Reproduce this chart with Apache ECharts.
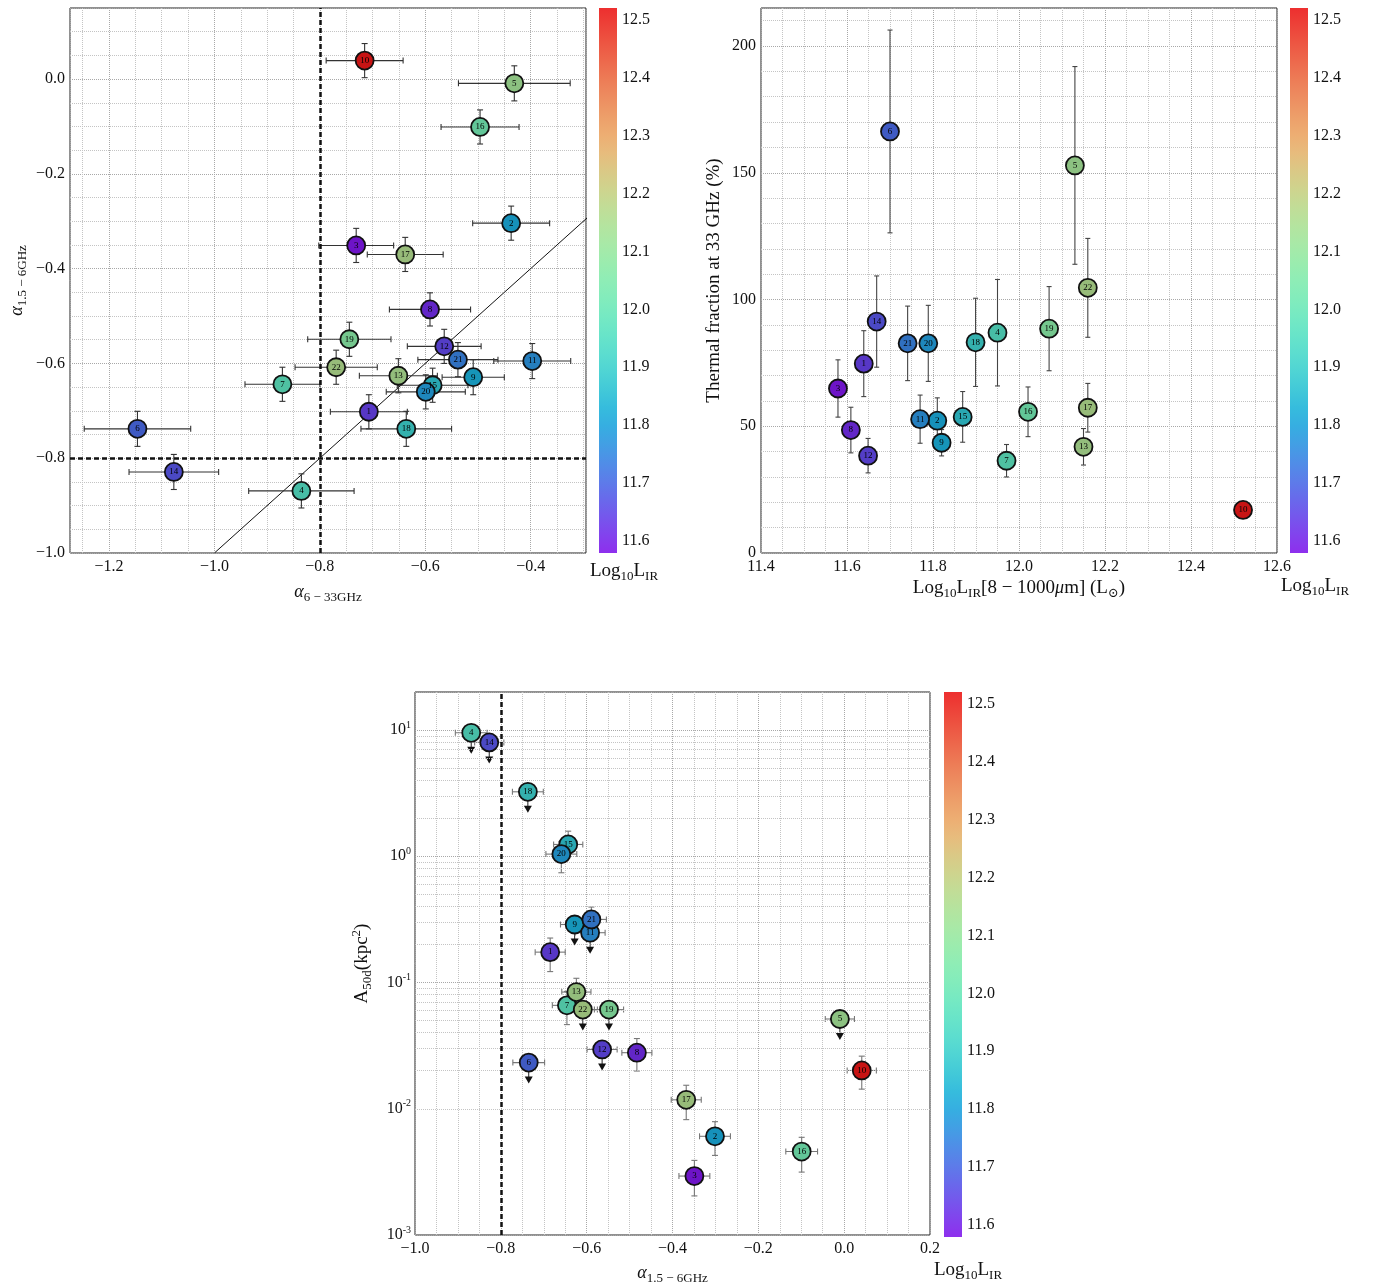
<!DOCTYPE html>
<html><head><meta charset="utf-8">
<script src="https://cdn.jsdelivr.net/npm/echarts@6/dist/echarts.min.js"></script>
<style>html,body{margin:0;padding:0;background:#fff;} #c{width:1377px;height:1286px;}</style>
</head><body><div id="c"></div>
<script>
// ---------------- DATA ----------------
const ids = [1,2,3,4,5,6,7,8,9,10,11,12,13,14,15,16,17,18,19,20,21,22];
// log10 L_IR (colour + panel 2 x)
const lir = [11.639,11.810,11.579,11.950,12.130,11.700,11.971,11.609,11.820,12.521,11.770,11.649,12.150,11.669,11.869,12.021,12.160,11.899,12.070,11.789,11.741,12.160];
// Panel 1: alpha 6-33 GHz (x) vs alpha 1.5-6 GHz (y)
const alpha633 = [-0.707,-0.437,-0.731,-0.835,-0.431,-1.146,-0.871,-0.591,-0.509,-0.715,-0.397,-0.564,-0.651,-1.077,-0.586,-0.496,-0.638,-0.636,-0.744,-0.599,-0.538,-0.769];
const alpha633Err = [0.073,0.073,0.071,0.100,0.106,0.101,0.071,0.077,0.059,0.073,0.073,0.070,0.074,0.085,0.067,0.074,0.072,0.086,0.079,0.075,0.076,0.078];
const alpha156 = [-0.702,-0.304,-0.351,-0.869,-0.009,-0.738,-0.644,-0.486,-0.629,0.039,-0.595,-0.564,-0.626,-0.829,-0.646,-0.101,-0.370,-0.738,-0.549,-0.660,-0.592,-0.608];
const alpha156Err = [0.036,0.036,0.036,0.036,0.037,0.037,0.036,0.035,0.037,0.036,0.037,0.036,0.036,0.037,0.036,0.036,0.036,0.037,0.036,0.036,0.036,0.036];
// Panel 2: thermal fraction at 33 GHz (%)
const thermal = [74.7,52.2,64.9,86.9,152.9,166.3,36.4,48.5,43.5,17.0,52.8,38.4,41.9,91.3,53.7,55.7,57.3,83.1,88.5,82.7,82.7,104.6];
const thermalErr = [13,9,11.3,21,39,40,6.4,9,5.2,0,9.5,6.8,7.2,18,10,9.8,9.6,17.4,16.6,15,14.7,19.5];
// Panel 3: alpha 1.5-6 GHz (x) vs A50 (kpc^2) (log y)
const alphaP3 = [-0.685,-0.301,-0.349,-0.869,-0.010,-0.735,-0.646,-0.483,-0.628,0.041,-0.592,-0.564,-0.624,-0.827,-0.643,-0.099,-0.368,-0.737,-0.548,-0.659,-0.589,-0.609];
const alphaP3Err = [0.035,0.036,0.036,0.037,0.034,0.037,0.034,0.035,0.033,0.034,0.035,0.035,0.034,0.034,0.034,0.037,0.035,0.036,0.034,0.036,0.035,0.034];
const area = [0.174,0.00605,0.00293,9.5,0.0514,0.0232,0.0659,0.0278,0.288,0.0201,0.248,0.0295,0.084,7.98,1.24,0.00458,0.01177,3.24,0.061,1.04,0.316,0.061];
const areaLo = [0.122,0.00427,0.00204,null,null,null,0.0464,0.0199,null,0.0143,null,null,0.065,null,1.0,0.00315,0.0082,null,null,0.74,0.25,null];
const areaHi = [0.225,0.0079,0.0039,null,null,null,0.085,0.036,null,0.0261,null,null,0.108,null,1.58,0.00594,0.01535,null,null,1.3,0.396,null];
const upperLimit = [0,0,0,1,1,1,0,0,1,0,1,1,0,1,0,0,0,1,1,0,0,1];
// reference lines
const refAlpha = -0.8;
const oneToOne = [[-1.0,-1.0],[0.0,0.0]];
// axis ranges
const p1X = [-1.274,-0.295], p1Y = [-1.0,0.15];
const p2X = [11.4,12.6], p2Y = [0,215];
const p3X = [-1.0,0.2], p3Y = [0.001,20];

// ---------------- STYLE HELPERS ----------------
const FONT = "'Liberation Serif','Times New Roman','DejaVu Serif',serif";
function rainbowRGB(t){
  t = Math.max(0, Math.min(1, t));
  const r = Math.min(1, Math.abs(2*t - 0.5));
  const g = Math.max(0, Math.min(1, Math.sin(Math.PI*t)));
  const b = Math.max(0, Math.min(1, Math.cos(Math.PI*t/2)));
  return [r,g,b];
}
function rgbStr(c,k){ return 'rgb(' + c.map(v=>Math.round(255*Math.min(1,v*k))).join(',') + ')'; }
const cbMin = Math.min(...lir), cbMax = Math.max(...lir);
const colorOf = v => { const c = rainbowRGB((v-cbMin)/(cbMax-cbMin)).map(x=>0.1+0.9*x); return rgbStr(c, 0.78); };
const stops = [];
for (let i=0;i<=30;i++){ const c = rainbowRGB(i/30).map(v=>0.2+0.8*v); stops.push({offset:i/30, color: rgbStr(c,0.93)}); }

const fmt1 = v => { const a = Math.abs(v); if (a < 1e-9) return '0.0'; return (v<0?'\u2212':'') + a.toFixed(1); };

const RICH = {
  m: {fontFamily: FONT, fontSize: 19, lineHeight: 24, color:'#111'},
  a: {fontFamily: FONT, fontSize: 18, lineHeight: 24, color:'#111', fontStyle:'italic'},
  s: {fontFamily: FONT, fontSize: 13, lineHeight: 14, color:'#111', verticalAlign:'bottom'},
  p: {fontFamily: FONT, fontSize: 13, lineHeight: 14, color:'#111', verticalAlign:'top'},
  b: {fontFamily: FONT, fontSize: 16, lineHeight: 20, color:'#111'},
  e: {fontFamily: FONT, fontSize: 10, lineHeight: 10, color:'#111', verticalAlign:'top'}
};
const gridLine = {show:true, lineStyle:{type:'dotted', color:'#a8a8a8', width:1}};
const minorLine = {show:true, lineStyle:{type:'dotted', color:'#c4c4c4', width:1}};
const labelBase = {fontFamily: FONT, fontSize: 16, color:'#111'};

function plotAxis(opts){
  return Object.assign({
    type:'value', axisLine:{show:false}, axisTick:{show:false},
    splitLine: gridLine, minorSplitLine: minorLine, minorTick:{show:false, splitNumber:4},
    nameLocation:'middle', nameTextStyle:{fontFamily:FONT, color:'#111', rich:RICH}
  }, opts);
}
function cbXAxis(grid, gap, pad){
  return {type:'value', gridIndex:grid, min:0, max:1, axisLine:{show:false}, axisTick:{show:false},
    axisLabel:{show:false}, splitLine:{show:false},
    name:'{m|Log}{s|10}{m|L}{s|IR}', nameLocation:'middle', nameGap:gap,
    nameTextStyle:{fontFamily:FONT, color:'#111', rich:RICH, padding:[0,0,0,pad]}};
}
function cbYAxis(grid){
  return {type:'value', gridIndex:grid, position:'right', min:cbMin, max:cbMax, splitNumber:9,
    axisLine:{show:false}, axisTick:{show:false}, splitLine:{show:false},
    axisLabel:Object.assign({formatter: v=>v.toFixed(1), showMinLabel:false, showMaxLabel:false, margin:5}, labelBase)};
}

function scatterSeries(xi, xs, ys){
  return {type:'scatter', xAxisIndex:xi, yAxisIndex:xi, z:5, symbolSize:18, animation:false,
    data: ids.map((id,i)=>[xs[i], ys[i], id, lir[i]]),
    itemStyle:{color: p => colorOf(p.data[3]), borderColor:'#111', borderWidth:1.8, opacity:1},
    label:{show:true, position:'inside', formatter: p => String(p.data[2]), fontSize:9, fontFamily:FONT, color:'#000'},
    emphasis:{disabled:true}};
}
// rows: [x, y, xlo, xhi, ylo, yhi, limit]
function errSeries(xi, rows, color, cap){
  return {type:'custom', xAxisIndex:xi, yAxisIndex:xi, z:3, silent:true, animation:false,
    data: rows.map(r=>[r[0], r[1]]),
    renderItem: (params, api) => {
      const r = rows[params.dataIndex];
      const ch = [];
      const L = (x1,y1,x2,y2) => ch.push({type:'line', shape:{x1,y1,x2,y2}, style:{stroke:color, lineWidth:1.1}});
      if (r[2] != null && r[3] != null && r[3] !== r[2]) {
        const a = api.coord([r[2], r[1]]), b = api.coord([r[3], r[1]]);
        L(a[0],a[1],b[0],b[1]); L(a[0],a[1]-cap,a[0],a[1]+cap); L(b[0],b[1]-cap,b[0],b[1]+cap);
      }
      if (r[4] != null && r[5] != null && r[5] !== r[4]) {
        const a = api.coord([r[0], r[4]]), b = api.coord([r[0], r[5]]);
        L(a[0],a[1],b[0],b[1]); L(a[0]-cap,a[1],a[0]+cap,a[1]); L(b[0]-cap,b[1],b[0]+cap,b[1]);
      }
      if (r[6]) {
        const c = api.coord([r[0], r[1]]);
        ch.push({type:'line', shape:{x1:c[0],y1:c[1],x2:c[0],y2:c[1]+15}, style:{stroke:'#222', lineWidth:1}});
        ch.push({type:'polygon', shape:{points:[[c[0]-4,c[1]+14],[c[0]+4,c[1]+14],[c[0],c[1]+21]]}, style:{fill:'#111'}});
      }
      return {type:'group', children: ch};
    }};
}
function colorbarSeries(xi){
  return {type:'custom', xAxisIndex:xi, yAxisIndex:xi, silent:true, animation:false, z:2,
    data:[[0, cbMin]],
    renderItem: (params, api) => {
      const a = api.coord([0, cbMin]), b = api.coord([1, cbMax]);
      return {type:'rect', shape:{x:a[0], y:b[1], width:b[0]-a[0], height:a[1]-b[1]},
        style:{fill: new echarts.graphic.LinearGradient(0,1,0,0, stops)}};
    }};
}

// rows
const rows1 = ids.map((id,i)=>[alpha633[i], alpha156[i], alpha633[i]-alpha633Err[i], alpha633[i]+alpha633Err[i], alpha156[i]-alpha156Err[i], alpha156[i]+alpha156Err[i], 0]);
const rows2 = ids.map((id,i)=>[lir[i], thermal[i], null, null, thermal[i]-thermalErr[i], thermal[i]+thermalErr[i], 0]);
const rows3 = ids.map((id,i)=>[alphaP3[i], area[i], alphaP3[i]-alphaP3Err[i], alphaP3[i]+alphaP3Err[i], areaLo[i], areaHi[i], upperLimit[i]]);

// log minor grid values (gridline positions)
const logMinor = [];
for (let k=-3;k<=1;k++) for (let m=2;m<=9;m++){ const v = m*Math.pow(10,k); if (v < p3Y[1]) logMinor.push(+v.toPrecision(3)); }

const gridBox = {show:true, borderColor:'#222', borderWidth:1, backgroundColor:'transparent'};
const option = {
  backgroundColor:'#fff', animation:false,
  textStyle:{fontFamily:FONT},
  grid: [
    Object.assign({left:70, top:8, width:516, height:545}, gridBox),
    {left:599, top:8, width:18, height:545, show:false},
    Object.assign({left:761, top:8, width:516, height:545}, gridBox),
    {left:1290, top:8, width:18, height:545, show:false},
    Object.assign({left:415, top:692, width:515, height:545}, gridBox),
    {left:944, top:692, width:18, height:545, show:false}
  ],
  xAxis: [
    plotAxis({gridIndex:0, min:p1X[0], max:p1X[1], splitNumber:5,
      axisLabel:Object.assign({formatter:fmt1, showMinLabel:false, showMaxLabel:false, margin:6}, labelBase),
      name:'{a|α}{s|6 − 33GHz}', nameGap:27}),
    cbXAxis(1, 6, 32),
    plotAxis({gridIndex:2, min:p2X[0], max:p2X[1], interval:0.2,
      axisLabel:Object.assign({formatter:v=>v.toFixed(1), margin:6}, labelBase),
      name:'{m|Log}{s|10}{m|L}{s|IR}{m|[8 − 1000}{a|μ}{m|m] (L}{s|⊙}{m|)}', nameGap:23}),
    cbXAxis(3, 21, 32),
    plotAxis({gridIndex:4, min:p3X[0], max:p3X[1], interval:0.2,
      axisLabel:Object.assign({formatter:fmt1, margin:6}, labelBase),
      name:'{a|α}{s|1.5 − 6GHz}', nameGap:26}),
    cbXAxis(5, 21, 30)
  ],
  yAxis: [
    plotAxis({gridIndex:0, min:p1Y[0], max:p1Y[1], interval:0.2,
      axisLabel:Object.assign({formatter:fmt1, showMaxLabel:false, margin:5}, labelBase),
      name:'{a|α}{s|1.5 − 6GHz}', nameGap:41}),
    cbYAxis(1),
    plotAxis({gridIndex:2, min:p2Y[0], max:p2Y[1], interval:50, minorTick:{show:false, splitNumber:5},
      axisLabel:Object.assign({formatter:v=>String(Math.round(v)), showMaxLabel:false, margin:5}, labelBase),
      name:'Thermal fraction at 33 GHz (%)', nameGap:37, nameTextStyle:{fontFamily:FONT, fontSize:19, color:'#111'}}),
    cbYAxis(3),
    {type:'log', logBase:10, gridIndex:4, min:p3Y[0], max:p3Y[1], axisLine:{show:false}, axisTick:{show:false},
      splitLine:gridLine, minorSplitLine:{show:false},
      axisLabel:{formatter: v => '{b|10}{e|' + Math.round(Math.log10(v)) + '}', rich:RICH, showMaxLabel:false, margin:4},
      nameLocation:'middle', name:'{m|A}{s|50d}{m|(kpc}{p|2}{m|)}', nameGap:41,
      nameTextStyle:{fontFamily:FONT, color:'#111', rich:RICH}},
    cbYAxis(5)
  ],
  series: [
    // panel 1
    {type:'line', xAxisIndex:0, yAxisIndex:0, data:oneToOne, symbol:'none', clip:true, z:2, silent:true,
      lineStyle:{color:'#111', width:1},
      markLine:{silent:true, symbol:'none', label:{show:false}, animation:false,
        lineStyle:{color:'#111', width:2.5, type:[5,3]},
        data:[{xAxis:refAlpha},{yAxis:refAlpha}]}},
    errSeries(0, rows1, '#333', 3),
    scatterSeries(0, alpha633, alpha156),
    colorbarSeries(1),
    // panel 2
    errSeries(2, rows2, '#444', 2.5),
    scatterSeries(2, lir, thermal),
    colorbarSeries(3),
    // panel 3
    {type:'line', xAxisIndex:4, yAxisIndex:4, data:[], symbol:'none', z:1, silent:true,
      markLine:{silent:true, symbol:'none', label:{show:false}, animation:false,
        data: logMinor.map(v=>({yAxis:v, lineStyle:{type:'dotted', color:'#c4c4c4', width:1}}))
          .concat([{xAxis:refAlpha, lineStyle:{color:'#111', width:2.5, type:[5,3]}}])}},
    errSeries(4, rows3, '#777', 3),
    scatterSeries(4, alphaP3, area),
    colorbarSeries(5)
  ]
};
const chart = echarts.init(document.getElementById('c'), null, {renderer:'canvas'});
chart.setOption(option);
</script></body></html>
